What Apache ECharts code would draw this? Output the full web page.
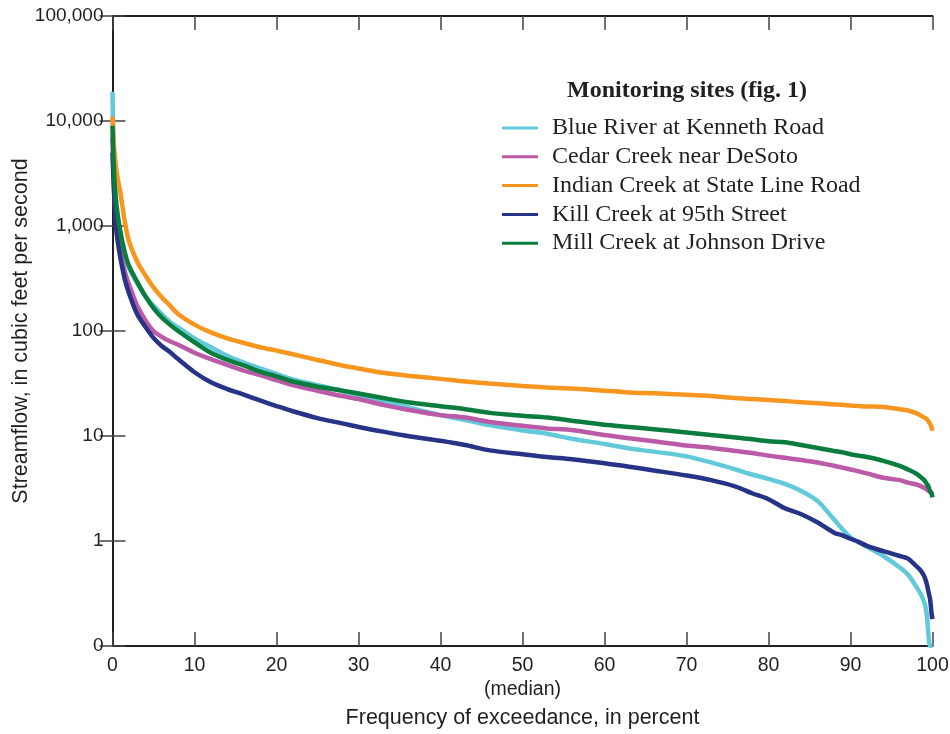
<!DOCTYPE html>
<html>
<head>
<meta charset="utf-8">
<script src="https://cdn.jsdelivr.net/npm/echarts@6/dist/echarts.min.js"></script>
<style>
  html, body { margin: 0; padding: 0; background: #ffffff; }
  #chart { width: 950px; height: 734px; }
</style>
</head>
<body>
<div id="chart"></div>
<script>
// Flow-duration curves: streamflow exceeded a given percent of the time.
const exceedance = [0, 0.2, 0.5, 1, 1.5, 2, 3, 4, 5, 6, 7, 8, 10, 12, 14, 16, 18, 20, 22, 25, 28, 30, 33, 36, 40, 43, 46, 50, 53, 56, 60, 63, 66, 70, 73, 76, 78, 80, 82, 84, 86, 88, 89, 90, 91, 92, 94, 96, 97, 98, 98.5, 99, 99.3, 99.5, 99.7, 99.9, 100];

const siteNames = [
  'Blue River at Kenneth Road',
  'Cedar Creek near DeSoto',
  'Indian Creek at State Line Road',
  'Kill Creek at 95th Street',
  'Mill Creek at Johnson Drive'
];
const siteColors = ['#62c9da', '#bb5aa7', '#f7961f', '#263386', '#0a7d3e'];

// Streamflow, cubic feet per second (0.1 stands for zero flow at the axis floor)
const blueRiver = [19000, 3500, 1600, 800, 540, 400, 285, 215, 175, 145, 122, 108, 85, 70, 58, 50, 44, 39, 34.5, 30.5, 27, 24.5, 21.5, 18.8, 15.8, 14.2, 12.7, 11.3, 10.5, 9.4, 8.4, 7.6, 7.1, 6.4, 5.6, 4.8, 4.3, 3.9, 3.5, 3.0, 2.4, 1.6, 1.3, 1.08, 0.97, 0.88, 0.72, 0.56, 0.48, 0.37, 0.32, 0.26, 0.2, 0.13, 0.1, 0.1, 0.1];
const cedarCreek = [7000, 2200, 1000, 560, 370, 280, 175, 127, 100, 88, 80, 74, 62, 54, 47.5, 42, 38, 34, 30.5, 27, 24, 22.5, 19.8, 17.8, 15.8, 15, 13.6, 12.5, 11.8, 11.4, 10.2, 9.5, 8.9, 8.1, 7.7, 7.2, 6.9, 6.5, 6.2, 5.9, 5.6, 5.2, 5.0, 4.8, 4.6, 4.4, 4.0, 3.8, 3.6, 3.45, 3.35, 3.2, 3.1, 3.0, 2.95, 2.85, 2.8];
const indianCreek = [11000, 5500, 3300, 2000, 1100, 720, 460, 340, 260, 210, 175, 145, 115, 97, 85, 77, 70, 65, 60, 53, 47, 44, 40, 37.5, 35, 33, 31.6, 30, 29, 28.3, 27, 26, 25.5, 24.7, 24, 23, 22.5, 22, 21.5, 21, 20.5, 20, 19.8, 19.5, 19.3, 19.1, 18.9, 18, 17.5, 16.5, 15.8, 15, 14.5, 13.8, 13, 12, 11.2];
const killCreek = [5000, 2000, 860, 480, 310, 230, 145, 110, 86, 72, 63, 54, 40.5, 32.5, 28, 24.8, 21.8, 19.3, 17.2, 14.8, 13.2, 12.2, 11, 10, 9, 8.2, 7.3, 6.7, 6.3, 6, 5.5, 5.1, 4.7, 4.2, 3.8, 3.3, 2.85, 2.5, 2.05, 1.8, 1.5, 1.2, 1.13, 1.05, 0.98, 0.9, 0.8, 0.72, 0.68, 0.58, 0.53, 0.46, 0.39, 0.33, 0.28, 0.2, 0.18];
const millCreek = [9000, 3000, 1500, 850, 560, 420, 295, 215, 165, 135, 115, 100, 78, 62, 53, 47, 41, 37, 33, 29.5, 27, 25.4, 23, 21, 19.2, 18, 16.6, 15.6, 15, 14, 12.8, 12.2, 11.6, 10.8, 10.2, 9.7, 9.3, 8.9, 8.7, 8.2, 7.7, 7.2, 7.0, 6.7, 6.5, 6.3, 5.8, 5.2, 4.8, 4.4, 4.1, 3.8, 3.5, 3.3, 3.0, 2.8, 2.6];

const siteValues = [blueRiver, cedarCreek, indianCreek, killCreek, millCreek];

const ink = '#231f20';
const sansFont = '"Liberation Sans", Arial, sans-serif';
const serifFont = '"Liberation Serif", "Times New Roman", serif';

function flowLabel(v) {
  if (v < 0.5) return '0';
  return Math.round(v).toLocaleString('en-US');
}

const chart = echarts.init(document.getElementById('chart'), null, { renderer: 'canvas' });

const axisLine = { show: true, lineStyle: { color: ink, width: 2 } };
const tickStyle = { color: '#444444', width: 1.5 };

chart.setOption({
  backgroundColor: '#ffffff',
  animation: false,
  title: {
    text: 'Monitoring sites (fig. 1)',
    left: 567,
    top: 79,
    padding: 0,
    textStyle: { fontFamily: serifFont, fontWeight: 'bold', fontSize: 24, color: ink }
  },
  legend: {
    orient: 'vertical',
    left: 502,
    top: 116,
    padding: 0,
    itemWidth: 36,
    itemHeight: 14,
    itemGap: 4.8,
    data: siteNames.map((n, i) => ({
      name: n,
      icon: 'path://M0,6 L36,6 L36,9 L0,9 Z',
      itemStyle: { color: siteColors[i] }
    })),
    textStyle: {
      fontFamily: serifFont, fontSize: 24, color: ink,
      padding: [0, 0, 0, 9], lineHeight: 22
    }
  },
  grid: { left: 112.5, right: 17.5, top: 16, bottom: 88, containLabel: false, outerBoundsMode: 'none' },
  xAxis: [
    {
      type: 'value', min: 0, max: 100, interval: 10,
      position: 'bottom',
      name: 'Frequency of exceedance, in percent',
      nameLocation: 'middle', nameGap: 61, nameMoveOverlap: false,
      nameTextStyle: { fontFamily: sansFont, fontSize: 21.5, color: ink },
      axisLine: axisLine,
      axisTick: { show: true, inside: true, length: 14, lineStyle: tickStyle },
      axisLabel: {
        margin: 8, fontFamily: sansFont, fontSize: 19.5, color: ink, lineHeight: 24,
        formatter: v => (v === 50 ? '50\n(median)' : String(v))
      },
      splitLine: { show: false }
    },
    {
      type: 'value', min: 0, max: 100, interval: 10,
      position: 'top',
      axisLine: axisLine,
      axisTick: { show: true, inside: true, length: 14, lineStyle: tickStyle },
      axisLabel: { show: false },
      splitLine: { show: false }
    }
  ],
  yAxis: [
    {
      type: 'log', logBase: 10, min: 0.1, max: 100000,
      position: 'left',
      name: 'Streamflow, in cubic feet per second',
      nameLocation: 'middle', nameGap: 80, nameMoveOverlap: false,
      nameTextStyle: { fontFamily: sansFont, fontSize: 21.5, color: ink },
      axisLine: axisLine,
      axisTick: { show: true, inside: true, length: 13, lineStyle: tickStyle },
      axisLabel: { margin: 9, fontFamily: sansFont, fontSize: 19, color: ink, formatter: flowLabel },
      splitLine: { show: false }
    },
    {
      type: 'log', logBase: 10, min: 0.1, max: 100000,
      position: 'right',
      axisLine: axisLine,
      axisTick: { show: true, inside: true, length: 13, lineStyle: tickStyle },
      axisLabel: { show: false },
      splitLine: { show: false }
    }
  ],
  series: siteNames.map((name, i) => ({
    name: name,
    type: 'line',
    xAxisIndex: 0,
    yAxisIndex: 0,
    symbol: 'none',
    smooth: 0.3,
    clip: true,
    color: siteColors[i],
    lineStyle: { color: siteColors[i], width: 4.5 },
    data: exceedance.map((p, j) => [p, siteValues[i][j]])
  }))
});
</script>
</body>
</html>
